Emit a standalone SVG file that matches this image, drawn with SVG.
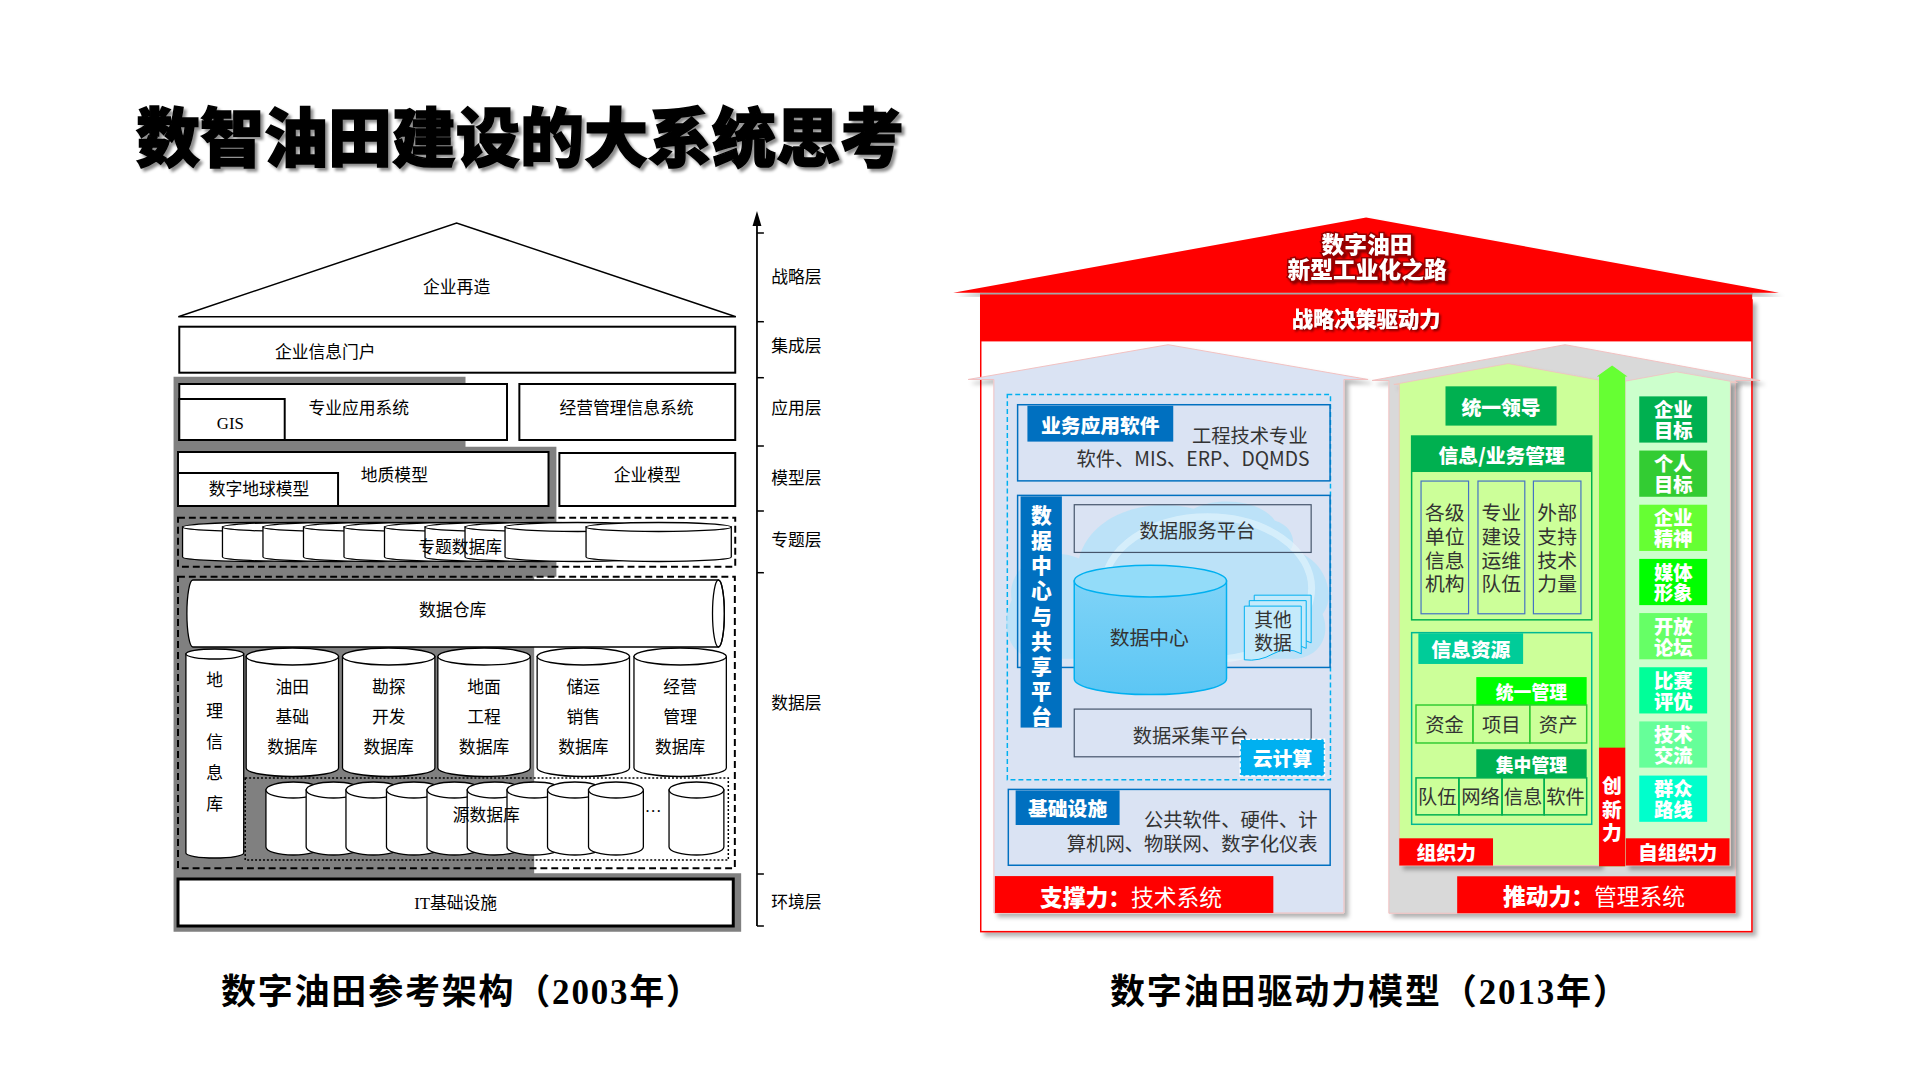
<svg xmlns="http://www.w3.org/2000/svg" width="1920" height="1080" viewBox="0 0 1920 1080">
<defs>
<style>
.cjk{font-family:"Noto Sans CJK SC","Noto Sans",sans-serif;}
.lt{font-family:"Liberation Serif","Noto Sans CJK SC",serif;font-size:17px;fill:#000;text-anchor:middle;dominant-baseline:central;}
.box{fill:#fff;stroke:#000;stroke-width:2;}
.cyl{fill:#fff;stroke:#000;stroke-width:1.3;}
.dash{fill:none;stroke:#000;stroke-width:2;stroke-dasharray:7,4;}
.dot{fill:none;stroke:#000;stroke-width:1.5;stroke-dasharray:2,2;}
.tick{stroke:#000;stroke-width:1.5;}
.wb{font-family:"Noto Sans CJK SC",sans-serif;font-weight:900;fill:#fff;text-anchor:middle;dominant-baseline:central;}
.rg{font-family:"Noto Sans CJK SC",sans-serif;fill:#333;dominant-baseline:central;}
.cap{font-family:"Liberation Serif","Noto Sans CJK SC",serif;font-weight:bold;font-size:35px;fill:#000;}
.doc{fill:#c5eafb;stroke:#00b0f0;stroke-width:1;}
</style>
<filter id="ts" x="-5%" y="-20%" width="110%" height="150%">
<feDropShadow dx="3" dy="3" stdDeviation="1.5" flood-color="#000" flood-opacity="0.45"/>
</filter>
<filter id="sh" x="-5%" y="-5%" width="110%" height="110%">
<feDropShadow dx="4" dy="4" stdDeviation="2" flood-color="#000" flood-opacity="0.3"/>
</filter>
<filter id="rs" x="-10%" y="-20%" width="120%" height="140%">
<feDropShadow dx="2" dy="2" stdDeviation="1" flood-color="#600" flood-opacity="0.8"/>
</filter>
<linearGradient id="cylg" x1="0" y1="0" x2="0" y2="1">
<stop offset="0" stop-color="#7fd3f7"/>
<stop offset="1" stop-color="#5cc6f4"/>
</linearGradient>
</defs>

<rect width="1920" height="1080" fill="#fff"/>

<!-- Title -->
<g id="title">
<text x="136" y="161" class="cjk" font-size="64" font-weight="900" fill="#000" stroke="#000" stroke-width="1.5" textLength="768" lengthAdjust="spacingAndGlyphs" filter="url(#ts)">数智油田建设的大系统思考</text>
</g>

<!-- ===== Left diagram ===== -->
<g id="left-diagram" transform="matrix(0.988 0 0 1 2.14 0)">
<path id="gray-bg" d="M173.5,376.7 H469 V446.7 H561 V576.7 H538.5 V873.3 H748 V931.7 H173.5 Z" fill="#808080"/>

<g id="roof-left">
<polygon points="178.3,316.7 460,223 742.6,316.7" fill="#fff" stroke="#000" stroke-width="1.5"/>
<text x="460" y="287" class="lt">企业再造</text>
</g>

<g id="portal">
<rect x="179.3" y="326.7" width="562.7" height="46" class="box"/>
<text x="327" y="352" class="lt">企业信息门户</text>
</g>

<g id="app-system">
<rect x="179.3" y="384" width="331.7" height="56" class="box"/>
<text x="361" y="408" class="lt">专业应用系统</text>
</g>
<g id="gis">
<rect x="179.3" y="399" width="106.7" height="41" class="box"/>
<text x="231" y="423" class="lt">GIS</text>
</g>
<g id="mis">
<rect x="523.5" y="384" width="218.5" height="56" class="box"/>
<text x="632" y="408" class="lt">经营管理信息系统</text>
</g>

<g id="geo-model">
<rect x="178" y="452" width="375" height="54" class="box"/>
<text x="397" y="475" class="lt">地质模型</text>
</g>
<g id="earth-model">
<rect x="178" y="473" width="162" height="33" class="box"/>
<text x="260" y="489" class="lt">数字地球模型</text>
</g>
<g id="ent-model">
<rect x="564" y="453" width="178" height="53" class="box"/>
<text x="653" y="475" class="lt">企业模型</text>
</g>

<g id="topic-db">
<rect x="178" y="517.7" width="564" height="49" class="dash"/>
<path class="cyl" d="M182.6,527 V557 A73.5,4.5 0 0 0 329.6,557 V527 Z"/><ellipse class="cyl" cx="256.1" cy="527" rx="73.5" ry="4.5"/>
<path class="cyl" d="M223,527 V557 A73.5,4.5 0 0 0 370,557 V527 Z"/><ellipse class="cyl" cx="296.5" cy="527" rx="73.5" ry="4.5"/>
<path class="cyl" d="M264,527 V557 A73.5,4.5 0 0 0 411,557 V527 Z"/><ellipse class="cyl" cx="337.5" cy="527" rx="73.5" ry="4.5"/>
<path class="cyl" d="M305,527 V557 A73.5,4.5 0 0 0 452,557 V527 Z"/><ellipse class="cyl" cx="378.5" cy="527" rx="73.5" ry="4.5"/>
<path class="cyl" d="M346,527 V557 A73.5,4.5 0 0 0 493,557 V527 Z"/><ellipse class="cyl" cx="419.5" cy="527" rx="73.5" ry="4.5"/>
<path class="cyl" d="M387,527 V557 A73.5,4.5 0 0 0 534,557 V527 Z"/><ellipse class="cyl" cx="460.5" cy="527" rx="73.5" ry="4.5"/>
<path class="cyl" d="M428,527 V557 A73.5,4.5 0 0 0 575,557 V527 Z"/><ellipse class="cyl" cx="501.5" cy="527" rx="73.5" ry="4.5"/>
<path class="cyl" d="M468.5,527 V557 A73.5,4.5 0 0 0 615.5,557 V527 Z"/><ellipse class="cyl" cx="542" cy="527" rx="73.5" ry="4.5"/>
<path class="cyl" d="M509,527 V557 A73.5,4.5 0 0 0 656,557 V527 Z"/><ellipse class="cyl" cx="582.5" cy="527" rx="73.5" ry="4.5"/>
<path class="cyl" d="M591,527 V557 A73.5,4.5 0 0 0 738,557 V527 Z"/><ellipse class="cyl" cx="664.5" cy="527" rx="73.5" ry="4.5"/>
<text x="463.5" y="547" class="lt">专题数据库</text>
</g>

<g id="data-layer">
<rect x="178" y="576.7" width="563.6" height="291.6" class="dash"/>
</g>

<g id="warehouse">
<path class="cyl" d="M193,580 H725 A6,33.5 0 0 1 725,647 H193 A6,33.5 0 0 1 193,580 Z"/>
<ellipse cx="725" cy="613.5" rx="6" ry="33.5" fill="none" stroke="#000" stroke-width="1.3"/>
<text x="456" y="610" class="lt">数据仓库</text>
</g>

<g id="geo-info-db">
<path class="cyl" d="M186,654 V853 A29.25,5 0 0 0 244.5,853 V654 Z"/>
<ellipse class="cyl" cx="215.25" cy="654" rx="29.25" ry="5"/>
<text class="lt"><tspan x="215" y="680">地</tspan><tspan x="215" y="711">理</tspan><tspan x="215" y="742">信</tspan><tspan x="215" y="773">息</tspan><tspan x="215" y="804">库</tspan></text>
</g>

<g id="db-oilfield">
<path class="cyl" d="M247,656.5 V768 A46.75,8.5 0 0 0 340.5,768 V656.5 Z"/><ellipse class="cyl" cx="293.75" cy="656.5" rx="46.75" ry="8.5"/>
<text class="lt"><tspan x="293.75" y="687">油田</tspan><tspan x="293.75" y="717">基础</tspan><tspan x="293.75" y="747">数据库</tspan></text>
</g>
<g id="db-explore">
<path class="cyl" d="M344.5,656.5 V768 A46.75,8.5 0 0 0 438,768 V656.5 Z"/><ellipse class="cyl" cx="391.25" cy="656.5" rx="46.75" ry="8.5"/>
<text class="lt"><tspan x="391.25" y="687">勘探</tspan><tspan x="391.25" y="717">开发</tspan><tspan x="391.25" y="747">数据库</tspan></text>
</g>
<g id="db-surface">
<path class="cyl" d="M441,656.5 V768 A46.75,8.5 0 0 0 534.5,768 V656.5 Z"/><ellipse class="cyl" cx="487.75" cy="656.5" rx="46.75" ry="8.5"/>
<text class="lt"><tspan x="487.75" y="687">地面</tspan><tspan x="487.75" y="717">工程</tspan><tspan x="487.75" y="747">数据库</tspan></text>
</g>
<g id="db-storage">
<path class="cyl" d="M541.5,656.5 V768 A46.75,8.5 0 0 0 635,768 V656.5 Z"/><ellipse class="cyl" cx="588.25" cy="656.5" rx="46.75" ry="8.5"/>
<text class="lt"><tspan x="588.25" y="687">储运</tspan><tspan x="588.25" y="717">销售</tspan><tspan x="588.25" y="747">数据库</tspan></text>
</g>
<g id="db-business">
<path class="cyl" d="M639.5,656.5 V768 A46.75,8.5 0 0 0 733,768 V656.5 Z"/><ellipse class="cyl" cx="686.25" cy="656.5" rx="46.75" ry="8.5"/>
<text class="lt"><tspan x="686.25" y="687">经营</tspan><tspan x="686.25" y="717">管理</tspan><tspan x="686.25" y="747">数据库</tspan></text>
</g>

<g id="source-db">
<rect x="246" y="778" width="489" height="82" class="dot"/>
<path class="cyl" d="M267,790 V847 A27.75,8 0 0 0 322.5,847 V790 Z"/><ellipse class="cyl" cx="294.75" cy="790" rx="27.75" ry="8"/>
<path class="cyl" d="M307.7,790 V847 A27.75,8 0 0 0 363.2,847 V790 Z"/><ellipse class="cyl" cx="335.45" cy="790" rx="27.75" ry="8"/>
<path class="cyl" d="M348,790 V847 A27.75,8 0 0 0 403.5,847 V790 Z"/><ellipse class="cyl" cx="375.75" cy="790" rx="27.75" ry="8"/>
<path class="cyl" d="M389,790 V847 A27.75,8 0 0 0 444.5,847 V790 Z"/><ellipse class="cyl" cx="416.75" cy="790" rx="27.75" ry="8"/>
<path class="cyl" d="M430,790 V847 A27.75,8 0 0 0 485.5,847 V790 Z"/><ellipse class="cyl" cx="457.75" cy="790" rx="27.75" ry="8"/>
<path class="cyl" d="M470.7,790 V847 A27.75,8 0 0 0 526.2,847 V790 Z"/><ellipse class="cyl" cx="498.45" cy="790" rx="27.75" ry="8"/>
<path class="cyl" d="M511,790 V847 A27.75,8 0 0 0 566.5,847 V790 Z"/><ellipse class="cyl" cx="538.75" cy="790" rx="27.75" ry="8"/>
<path class="cyl" d="M552,790 V847 A27.75,8 0 0 0 607.5,847 V790 Z"/><ellipse class="cyl" cx="579.75" cy="790" rx="27.75" ry="8"/>
<path class="cyl" d="M593.5,790 V847 A27.75,8 0 0 0 649,847 V790 Z"/><ellipse class="cyl" cx="621.25" cy="790" rx="27.75" ry="8"/>
<path class="cyl" d="M675,790 V847 A27.75,8 0 0 0 730.5,847 V790 Z"/><ellipse class="cyl" cx="702.75" cy="790" rx="27.75" ry="8"/>
<text x="490" y="815" class="lt">源数据库</text>
<text x="659" y="806" class="lt">…</text>
</g>

<g id="it-infra">
<rect x="178" y="879" width="562" height="47" fill="#fff" stroke="#000" stroke-width="3"/>
<text x="459" y="903" class="lt">IT基础设施</text>
</g>

<g id="layer-axis">
<line x1="764" y1="926" x2="764" y2="222" stroke="#000" stroke-width="1.8"/>
<polygon points="764,211 759.5,226 768.5,226" fill="#000"/>
<line class="tick" x1="764" y1="233" x2="771" y2="233"/>
<line class="tick" x1="764" y1="321.7" x2="771" y2="321.7"/>
<line class="tick" x1="764" y1="377.7" x2="771" y2="377.7"/>
<line class="tick" x1="764" y1="446" x2="771" y2="446"/>
<line class="tick" x1="764" y1="511" x2="771" y2="511"/>
<line class="tick" x1="764" y1="572.7" x2="771" y2="572.7"/>
<line class="tick" x1="764" y1="874" x2="771" y2="874"/>
<line class="tick" x1="764" y1="926" x2="771" y2="926"/>
<text x="804" y="277" class="lt">战略层</text>
<text x="804" y="346" class="lt">集成层</text>
<text x="804" y="408" class="lt">应用层</text>
<text x="804" y="478" class="lt">模型层</text>
<text x="804" y="540" class="lt">专题层</text>
<text x="804" y="703" class="lt">数据层</text>
<text x="804" y="902" class="lt">环境层</text>
</g>
</g>

<!-- ===== Right diagram ===== -->
<g id="right-diagram" transform="matrix(0.99 0 0 0.994 9.8 1.76)">
<rect id="outer-frame" x="980.75" y="300" width="779" height="635.5" fill="#fff" stroke="#ff0000" stroke-width="1.5" filter="url(#sh)"/>

<g id="roof-right">
<polygon points="953,292.7 1370,217 1787,292.7" fill="#ff0000" filter="url(#sh)"/>
<text x="1371" y="243" class="wb" font-size="23" stroke="#990000" stroke-width="3" paint-order="stroke" filter="url(#rs)">数字油田</text>
<text x="1371" y="268" class="wb" font-size="23" stroke="#990000" stroke-width="3" paint-order="stroke" filter="url(#rs)">新型工业化之路</text>
</g>

<g id="strategy-band">
<rect x="980" y="293" width="780" height="48.7" fill="#ff0000"/>
<line x1="980" y1="293.8" x2="1760" y2="293.8" stroke="#a6a6a6" stroke-width="1.5"/>
<text x="1370" y="317.5" class="wb" font-size="21.5" filter="url(#rs)">战略决策驱动力</text>
</g>

<!-- Technology house -->
<g id="tech-house">
<path d="M968,380 L1170,345 L1372,380 H1347.6 V916.7 H994 V380 Z" fill="#dae3f3" stroke="#f2c0c0" stroke-width="1" filter="url(#sh)"/>
<rect x="1007.6" y="395.2" width="326.4" height="387.4" fill="none" stroke="#00b0f0" stroke-width="1.5" stroke-dasharray="5,3"/>
</g>

<g id="biz-software">
<rect x="1018" y="405.4" width="315.6" height="76.6" fill="none" stroke="#0070c0" stroke-width="1.5"/>
<rect x="1027.9" y="406.4" width="147.3" height="36.1" fill="#0070c0"/>
<text x="1101.5" y="425" class="wb" font-size="20">业务应用软件</text>
<text x="1311" y="436" class="rg" font-size="19.5" text-anchor="end">工程技术专业</text>
<text x="1312.8" y="459" class="rg" font-size="19.5" text-anchor="end">软件、MIS、ERP、DQMDS</text>
</g>

<g id="data-center-platform">
<path d="M1040,661 C1008,662 1000,625 1012,602 C1006,566 1048,546 1080,560 C1092,514 1152,498 1196,510 C1218,498 1262,500 1278,522 C1296,527 1300,545 1293,552 C1326,556 1342,596 1326,616 C1336,642 1318,663 1293,661 Z" fill="#b6e2f8" opacity="0.85"/>
<ellipse cx="1210" cy="590" rx="105" ry="72" fill="none" stroke="#e6f6fd" stroke-width="7" opacity="0.6"/>
<rect x="1018" y="496.6" width="315.6" height="173.1" fill="none" stroke="#0070c0" stroke-width="1.5"/>
<rect x="1021" y="497.6" width="41.7" height="232.6" fill="#0070c0"/>
<text class="wb" font-size="21"><tspan x="1042" y="515.2">数</tspan><tspan x="1042" y="540.5">据</tspan><tspan x="1042" y="565.9">中</tspan><tspan x="1042" y="591.2">心</tspan><tspan x="1042" y="616.6">与</tspan><tspan x="1042" y="641.9">共</tspan><tspan x="1042" y="667.3">享</tspan><tspan x="1042" y="692.6">平</tspan><tspan x="1042" y="718">台</tspan></text>
</g>

<g id="data-service">
<rect x="1075.2" y="506" width="239.3" height="48" fill="none" stroke="#44546a" stroke-width="1.2"/>
<text x="1199.6" y="531" class="rg" font-size="19.5" text-anchor="middle">数据服务平台</text>
</g>

<g id="data-center">
<path d="M1075.2,582.8 V681 A76.9,16 0 0 0 1229,681 V582.8 Z" fill="url(#cylg)" stroke="#00b0f0" stroke-width="1.5"/>
<ellipse cx="1152.1" cy="582.8" rx="76.9" ry="16" fill="#93dcf9" stroke="#00b0f0" stroke-width="1.5"/>
<text x="1151" y="639" class="rg" font-size="20" text-anchor="middle">数据中心</text>
</g>

<g id="other-data">
<path class="doc" d="M1257,597 H1314.5 V645 Q1300,637 1286,645 T1257,646 Z"/>
<path class="doc" d="M1252,602.5 H1309.5 V650.5 Q1295,642.5 1281,650.5 T1252,651.5 Z"/>
<path class="doc" d="M1247,608 H1304.5 V656 Q1290,648 1276,656 T1247,662 Z"/>
<text class="rg" font-size="19" text-anchor="middle"><tspan x="1276" y="620">其他</tspan><tspan x="1276" y="643">数据</tspan></text>
</g>

<g id="data-collect">
<rect x="1075.2" y="711.6" width="239.3" height="48" fill="none" stroke="#44546a" stroke-width="1.2"/>
<text x="1192.8" y="737.6" class="rg" font-size="19.5" text-anchor="middle">数据采集平台</text>
</g>

<g id="cloud-computing">
<rect x="1242.8" y="742" width="85.2" height="36.8" fill="#00b0f0" stroke="#fff" stroke-width="1.5" stroke-dasharray="4,2"/>
<text x="1285.4" y="760.6" class="wb" font-size="20">云计算</text>
</g>

<g id="infrastructure">
<rect x="1008.6" y="792.4" width="325.1" height="76.3" fill="none" stroke="#0070c0" stroke-width="1.5"/>
<rect x="1016" y="793.4" width="105" height="34.8" fill="#0070c0"/>
<text x="1068.5" y="810.8" class="wb" font-size="20">基础设施</text>
<text x="1321" y="822" class="rg" font-size="19.5" text-anchor="end">公共软件、硬件、计</text>
<text x="1321" y="846" class="rg" font-size="19.5" text-anchor="end">算机网、物联网、数字化仪表</text>
</g>

<g id="support-force">
<rect x="995" y="879.6" width="281.3" height="37.1" fill="#ff0000"/>
<text x="1040.7" y="899.2" class="cjk" font-size="23" fill="#fff" dominant-baseline="central"><tspan font-weight="900">支撑力：</tspan><tspan font-weight="normal">技术系统</tspan></text>
</g>

<!-- Management house -->
<g id="mgmt-house">
<path d="M1376,381 L1571,345 L1768,381 H1743 V917 H1393 V381 Z" fill="#d9d9d9" stroke="#f2c0c0" stroke-width="1" filter="url(#sh)"/>
<path d="M1398,385 L1513.5,364 L1605.3,380.6 V869 H1403.5 V385 Z" fill="#ccff99" stroke="#f2c0c0" stroke-width="0.8" filter="url(#sh)"/>
<path d="M1631.7,381.7 L1683.4,372.3 L1745,383 H1738 V869 H1631.7 Z" fill="#ccffcc" stroke="#f2c0c0" stroke-width="0.8" filter="url(#sh)"/>
</g>

<g id="innovation-arrow">
<polygon points="1605.3,869.7 1605.3,377 1603,377 1618.5,366 1634,377 1631.7,377 1631.7,869.7" fill="#66ff33"/>
<rect x="1605.3" y="750.4" width="26.4" height="119.3" fill="#ff0000"/>
<text class="wb" font-size="20"><tspan x="1618.3" y="787">创</tspan><tspan x="1618.3" y="810.6">新</tspan><tspan x="1618.3" y="834.2">力</tspan></text>
</g>

<g id="unified-leadership">
<rect x="1450.2" y="386.9" width="112.2" height="39.5" fill="#00b050"/>
<text x="1506.3" y="406.7" class="wb" font-size="20">统一领导</text>
</g>

<g id="info-biz-mgmt">
<rect x="1416" y="436.9" width="181.9" height="184.9" fill="#ccff99" stroke="#00b050" stroke-width="1.5"/>
<rect x="1416" y="436.9" width="181.9" height="36.2" fill="#00b050"/>
<text x="1507" y="455" class="wb" font-size="20">信息/业务管理</text>
<rect x="1425.5" y="482.2" width="48" height="133.5" fill="none" stroke="#4472c4" stroke-width="1.2"/>
<rect x="1483" y="482.2" width="47.3" height="133.5" fill="none" stroke="#4472c4" stroke-width="1.2"/>
<rect x="1539" y="482.2" width="48" height="133.5" fill="none" stroke="#4472c4" stroke-width="1.2"/>
<text class="rg" font-size="20" text-anchor="middle"><tspan x="1449.5" y="512">各级</tspan><tspan x="1449.5" y="536.6">单位</tspan><tspan x="1449.5" y="560.3">信息</tspan><tspan x="1449.5" y="584">机构</tspan></text>
<text class="rg" font-size="20" text-anchor="middle"><tspan x="1506.6" y="512">专业</tspan><tspan x="1506.6" y="536.6">建设</tspan><tspan x="1506.6" y="560.3">运维</tspan><tspan x="1506.6" y="584">队伍</tspan></text>
<text class="rg" font-size="20" text-anchor="middle"><tspan x="1563" y="512">外部</tspan><tspan x="1563" y="536.6">支持</tspan><tspan x="1563" y="560.3">技术</tspan><tspan x="1563" y="584">力量</tspan></text>
</g>

<g id="info-resources">
<rect x="1416" y="634.7" width="181.9" height="192.8" fill="none" stroke="#00b894" stroke-width="1.5"/>
<rect x="1422.8" y="635.3" width="105.8" height="30.9" fill="#00cc99"/>
<text x="1475.7" y="650.8" class="wb" font-size="20">信息资源</text>
</g>

<g id="unified-mgmt">
<rect x="1481.3" y="679.4" width="111.5" height="28.1" fill="#00ff00"/>
<text x="1537" y="693.5" class="wb" font-size="18">统一管理</text>
<rect x="1420.4" y="707.5" width="57.5" height="38.2" fill="none" stroke="#33cc33" stroke-width="1.5"/>
<rect x="1477.9" y="707.5" width="57.4" height="38.2" fill="none" stroke="#33cc33" stroke-width="1.5"/>
<rect x="1535.3" y="707.5" width="57.5" height="38.2" fill="none" stroke="#33cc33" stroke-width="1.5"/>
<text x="1449.2" y="726.6" class="rg" font-size="19.5" text-anchor="middle">资金</text>
<text x="1506.6" y="726.6" class="rg" font-size="19.5" text-anchor="middle">项目</text>
<text x="1564" y="726.6" class="rg" font-size="19.5" text-anchor="middle">资产</text>
</g>

<g id="central-mgmt">
<rect x="1481.3" y="752" width="111.5" height="28.8" fill="#00b050"/>
<text x="1537" y="766.4" class="wb" font-size="18">集中管理</text>
<rect x="1420.4" y="780.8" width="43.3" height="37.2" fill="none" stroke="#00b050" stroke-width="1.5"/>
<rect x="1463.7" y="780.8" width="43.6" height="37.2" fill="none" stroke="#00b050" stroke-width="1.5"/>
<rect x="1507.3" y="780.8" width="42.6" height="37.2" fill="none" stroke="#00b050" stroke-width="1.5"/>
<rect x="1549.9" y="780.8" width="42.9" height="37.2" fill="none" stroke="#00b050" stroke-width="1.5"/>
<text x="1442" y="799.4" class="rg" font-size="19.5" text-anchor="middle">队伍</text>
<text x="1485.5" y="799.4" class="rg" font-size="19.5" text-anchor="middle">网络</text>
<text x="1528.6" y="799.4" class="rg" font-size="19.5" text-anchor="middle">信息</text>
<text x="1571.4" y="799.4" class="rg" font-size="19.5" text-anchor="middle">软件</text>
</g>

<g id="org-force">
<rect x="1403.5" y="841.6" width="94.7" height="27.4" fill="#ff0000"/>
<text x="1451" y="855.3" class="wb" font-size="20">组织力</text>
</g>

<g id="self-org-force">
<rect x="1632.3" y="841.6" width="104.8" height="27.4" fill="#ff0000"/>
<text x="1684.7" y="855.3" class="wb" font-size="20">自组织力</text>
</g>

<g id="culture-boxes">
<rect x="1645.9" y="397" width="68.6" height="46.5" fill="#00b050"/>
<text class="wb" font-size="19.5"><tspan x="1680.2" y="409.8">企业</tspan><tspan x="1680.2" y="430.8">目标</tspan></text>
<rect x="1645.9" y="451.5" width="68.6" height="46.5" fill="#33cc33"/>
<text class="wb" font-size="19.5"><tspan x="1680.2" y="464.3">个人</tspan><tspan x="1680.2" y="485.3">目标</tspan></text>
<rect x="1645.9" y="506" width="68.6" height="46.5" fill="#66ff33"/>
<text class="wb" font-size="19.5"><tspan x="1680.2" y="518.8">企业</tspan><tspan x="1680.2" y="539.8">精神</tspan></text>
<rect x="1645.9" y="560.5" width="68.6" height="46.5" fill="#00ff00"/>
<text class="wb" font-size="19.5"><tspan x="1680.2" y="573.3">媒体</tspan><tspan x="1680.2" y="594.3">形象</tspan></text>
<rect x="1645.9" y="615" width="68.6" height="46.5" fill="#66ff66"/>
<text class="wb" font-size="19.5"><tspan x="1680.2" y="627.8">开放</tspan><tspan x="1680.2" y="648.8">论坛</tspan></text>
<rect x="1645.9" y="669.5" width="68.6" height="46.5" fill="#00ff99"/>
<text class="wb" font-size="19.5"><tspan x="1680.2" y="682.3">比赛</tspan><tspan x="1680.2" y="703.3">评优</tspan></text>
<rect x="1645.9" y="724" width="68.6" height="46.5" fill="#66ff99"/>
<text class="wb" font-size="19.5"><tspan x="1680.2" y="736.8">技术</tspan><tspan x="1680.2" y="757.8">交流</tspan></text>
<rect x="1645.9" y="778.5" width="68.6" height="46.5" fill="#00ffcc"/>
<text class="wb" font-size="19.5"><tspan x="1680.2" y="791.3">群众</tspan><tspan x="1680.2" y="812.3">路线</tspan></text>
</g>

<g id="drive-force">
<rect x="1462" y="879.8" width="281.2" height="37.2" fill="#ff0000"/>
<text x="1508.3" y="899" class="cjk" font-size="23" fill="#fff" dominant-baseline="central"><tspan font-weight="900">推动力：</tspan><tspan font-weight="normal">管理系统</tspan></text>
</g>
</g>

<!-- Captions -->
<g id="captions">
<text x="221" y="1004" class="cap" textLength="480" lengthAdjust="spacing">数字油田参考架构（2003年）</text>
<text x="1110" y="1004" class="cap" textLength="518" lengthAdjust="spacing">数字油田驱动力模型（2013年）</text>
</g>
</svg>
